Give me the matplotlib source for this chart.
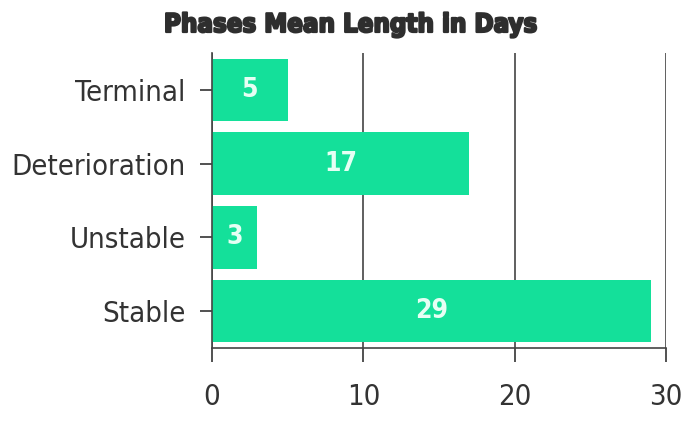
import matplotlib
matplotlib.use("Agg")
import matplotlib.pyplot as plt
import matplotlib.patheffects as pe

phases = ["Stable", "Unstable", "Deterioration", "Terminal"]
mean_days = [29, 3, 17, 5]
x_ticks = [0, 10, 20, 30]

bar_color = "#14e09a"
text_color = "#333333"

plt.rcParams["font.family"] = ["DejaVu Sans"]
plt.rcParams["font.stretch"] = "condensed"

fig = plt.figure(figsize=(6.84, 4.21), dpi=100)
ax = fig.add_axes([212 / 684, 1 - 348 / 421, (666 - 212) / 684, (348 - 53) / 421])

ypos = list(range(len(phases)))
bars = ax.barh(ypos, mean_days, height=0.85, color=bar_color, zorder=2)

for y, v in zip(ypos, mean_days):
    ax.text(v / 2, y, str(v), ha="center", va="center", color="#e6fff4",
            fontsize=19, fontweight="bold", zorder=3)

ax.set_xlim(0, 30)
ax.set_ylim(-0.5, 3.5)
ax.set_xticks(x_ticks)
ax.set_yticks(ypos)
ax.set_yticklabels(phases)
ax.tick_params(axis="both", labelsize=21, colors=text_color, length=10, width=1.2, pad=15)
ax.tick_params(axis="y", length=9, pad=10)

ax.grid(axis="x", color="#444444", linewidth=1.2, zorder=0)
for side in ["top", "right"]:
    ax.spines[side].set_visible(False)
for side in ["left", "bottom"]:
    ax.spines[side].set_color("#444444")
    ax.spines[side].set_linewidth(1.2)

fig.text(351 / 684, 1 - 25 / 421, "Phases Mean Length in Days", ha="center", va="center",
         fontsize=18.5, fontweight="heavy", color="#2e2e2e",
         path_effects=[pe.withStroke(linewidth=1.6, foreground="#2e2e2e")])

fig.savefig("out.png", dpi=100, facecolor="white")
